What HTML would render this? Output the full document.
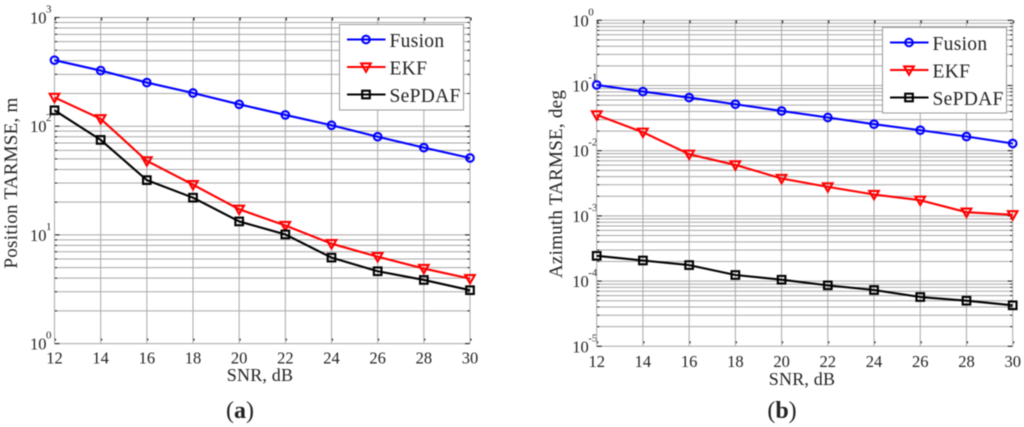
<!DOCTYPE html>
<html lang="en">
<head>
<meta charset="utf-8">
<title>TARMSE vs SNR</title>
<style>
html,body{margin:0;padding:0;background:#fff;width:1024px;height:427px;overflow:hidden}
svg{display:block;position:absolute;left:0;top:0;filter:blur(.4px)}
text{font-family:"Liberation Serif",serif;fill:#222}
</style>
</head>
<body>
<svg id="figure" width="1024" height="427" viewBox="0 0 1024 427" xmlns="http://www.w3.org/2000/svg"></svg>
<script>
const snrCategories = [12, 14, 16, 18, 20, 22, 24, 26, 28, 30];
const minorMultipliers = [2, 3, 4, 5, 6, 7, 8, 9];
const legendLabels = ['Fusion', 'EKF', 'SePDAF'];

const positionDecades = [0, 1, 2, 3];
const positionFusion = [405, 325, 252, 202, 159, 127, 102, 80, 63.5, 51];
const positionEkf = [184, 117, 48, 29, 17.2, 12.2, 8.3, 6.3, 4.9, 3.96];
const positionSepdaf = [140, 74.8, 31.9, 22, 13.3, 10.1, 6.18, 4.63, 3.85, 3.1];

const azimuthDecades = [-5, -4, -3, -2, -1, 0];
const azimuthFusion = [0.102, 0.0807, 0.0653, 0.0516, 0.0407, 0.0323, 0.0255, 0.0206, 0.0165, 0.0129];
const azimuthEkf = [0.0354, 0.0192, 0.00883, 0.00605, 0.00375, 0.00279, 0.00213, 0.00174, 0.00114, 0.00104];
const azimuthSepdaf = [0.000244, 0.000207, 0.000176, 0.000124, 0.000105, 0.000086, 0.000073, 0.000057, 0.00005, 0.0000425];

const svg = document.getElementById('figure');
const NS = 'http://www.w3.org/2000/svg';
const colors = ['#0000ff', '#ff0000', '#000000'];

function make(parent, tag, attrs, content) {
  const node = document.createElementNS(NS, tag);
  for (const k in attrs) node.setAttribute(k, attrs[k]);
  if (content !== undefined) node.textContent = content;
  parent.appendChild(node);
  return node;
}

function drawMarker(g, kind, cx, cy, color) {
  let el;
  if (kind === 0) {
    el = make(g, 'circle', {cx: cx, cy: cy, r: 3.8, fill: 'none', stroke: color, 'stroke-width': 2.1});
  } else if (kind === 1) {
    el = make(g, 'path', {d: 'M' + (cx - 4.8) + ' ' + (cy - 3.6) + 'H' + (cx + 4.8) + 'L' + cx + ' ' + (cy + 4.8) + 'Z', fill: 'none', stroke: color, 'stroke-width': 2.1});
  } else {
    el = make(g, 'rect', {x: cx - 3.8, y: cy - 3.8, width: 7.6, height: 7.6, fill: 'none', stroke: color, 'stroke-width': 2.1});
  }
  
  
}

function drawChart(cfg) {
  const root = make(svg, 'g', {});
  
  
  const minD = cfg.decades[0];
  const maxD = cfg.decades[cfg.decades.length - 1];
  const xMin = snrCategories[0];
  const xMax = snrCategories[snrCategories.length - 1];
  const xScale = v => cfg.left + (v - xMin) / (xMax - xMin) * (cfg.right - cfg.left);
  const yScale = v => cfg.bottom - (Math.log10(v) - minD) / (maxD - minD) * (cfg.bottom - cfg.top);

  // horizontal grid and side ticks
  cfg.decades.forEach((d, i) => {
    const values = [Math.pow(10, d)];
    if (i < cfg.decades.length - 1) minorMultipliers.forEach(m => values.push(m * Math.pow(10, d)));
    values.forEach((v, j) => {
      const y = yScale(v);
      const grid = make(root, 'line', {x1: cfg.left, x2: cfg.right, y1: y, y2: y, stroke: '#a8a8a8', 'stroke-width': 1});
      
      
      const len = j === 0 ? 5 : 2.5;
      [[cfg.left, cfg.left + len], [cfg.right - len, cfg.right]].forEach(p => {
        const tick = make(root, 'line', {x1: p[0], x2: p[1], y1: y, y2: y, stroke: '#111', 'stroke-width': 1});
        
        
      });
    });
    const label = make(root, 'text', {x: cfg.left - 24.5, y: yScale(values[0]) + cfg.labelDy, 'font-size': 16.5}, '10');
    
    
    const exp = make(root, 'text', {x: cfg.left - 8.5, y: yScale(values[0]) + cfg.labelDy - 11, 'font-size': 11}, String(d));
    
    
  });

  // vertical grid, ticks and labels
  snrCategories.forEach(c => {
    const x = xScale(c);
    const grid = make(root, 'line', {x1: x, x2: x, y1: cfg.top, y2: cfg.bottom, stroke: '#a8a8a8', 'stroke-width': 1});
    
    
    [[cfg.top, cfg.top + 3], [cfg.bottom - 5, cfg.bottom - 3]].forEach(p => {
      const tick = make(root, 'line', {x1: x + 1, x2: x + 1, y1: p[0], y2: p[1], stroke: '#111', 'stroke-width': 1});
      
      
    });
    const label = make(root, 'text', {x: x, y: cfg.bottom + cfg.xLabelDy, 'font-size': 16.5, 'text-anchor': 'middle'}, String(c));
    
    
  });

  // series
  cfg.series.forEach((vals, s) => {
    const g = make(root, 'g', {});
    
    
    const pts = vals.map((v, i) => xScale(snrCategories[i]) + ',' + yScale(v)).join(' ');
    const line = make(g, 'polyline', {points: pts, fill: 'none', stroke: colors[s], 'stroke-width': 2.1, 'stroke-linejoin': 'round'});
    
    
    vals.forEach((v, i) => drawMarker(g, s, xScale(snrCategories[i]), yScale(v), colors[s]));
  });

  // legend
  const lg = make(root, 'g', {});
  
  
  const box = make(lg, 'rect', {x: cfg.legend.x, y: cfg.legend.y, width: cfg.legend.w, height: cfg.legend.h, fill: '#fff', stroke: '#9a9a9a', 'stroke-width': 1});
  
  
  legendLabels.forEach((name, s) => {
    const y = cfg.legend.y + 15 + s * 27.5;
    const x0 = cfg.legend.x + 7.5;
    const entry = make(lg, 'g', {});
    
    
    make(entry, 'line', {x1: x0, x2: x0 + 38.5, y1: y, y2: y, stroke: colors[s], 'stroke-width': 2});
    drawMarker(entry, s, x0 + 19, y, colors[s]);
    const t = make(entry, 'text', {x: x0 + 42.5, y: y + 7.5, 'font-size': 19.5, 'letter-spacing': '.3'}, name);
    
    
  });

  // axis titles
  const xt = make(root, 'text', {x: cfg.xTitle.x, y: cfg.xTitle.y, 'font-size': 18, 'text-anchor': 'middle', 'letter-spacing': '.2'}, 'SNR, dB');
  
  
  const yt = make(root, 'text', {x: 0, y: 0, 'font-size': 19, 'text-anchor': 'middle', 'letter-spacing': '.25', transform: 'translate(' + cfg.yTitle.x + ',' + cfg.yTitle.y + ') rotate(-90)'}, cfg.yTitle.text);
  
  

  // caption
  const cap = make(root, 'text', {x: cfg.caption.x, y: cfg.caption.y, 'font-size': 24, 'text-anchor': 'middle'});
  
  
  make(cap, 'tspan', {}, '(');
  make(cap, 'tspan', {'font-weight': 'bold'}, cfg.caption.letter);
  make(cap, 'tspan', {}, ')');
}

drawChart({
  name: 'position-chart',
  left: 54.5, right: 470, top: 17.5, bottom: 343.6,
  labelDy: 6, xLabelDy: 20,
  decades: positionDecades,
  series: [positionFusion, positionEkf, positionSepdaf],
  legend: {x: 339.5, y: 24.5, w: 124, h: 85.5},
  xTitle: {x: 260, y: 381},
  yTitle: {x: 17, y: 183, text: 'Position TARMSE, m'},
  caption: {x: 240, y: 418, letter: 'a'}
});

drawChart({
  name: 'azimuth-chart',
  left: 596.7, right: 1012.7, top: 20.3, bottom: 346.3,
  labelDy: 6, xLabelDy: 20.5,
  decades: azimuthDecades,
  series: [azimuthFusion, azimuthEkf, azimuthSepdaf],
  legend: {x: 882.5, y: 27.5, w: 124, h: 85.5},
  xTitle: {x: 802, y: 385},
  yTitle: {x: 562, y: 184, text: 'Azimuth TARMSE, deg'},
  caption: {x: 782, y: 418, letter: 'b'}
});
</script>
</body>
</html>
